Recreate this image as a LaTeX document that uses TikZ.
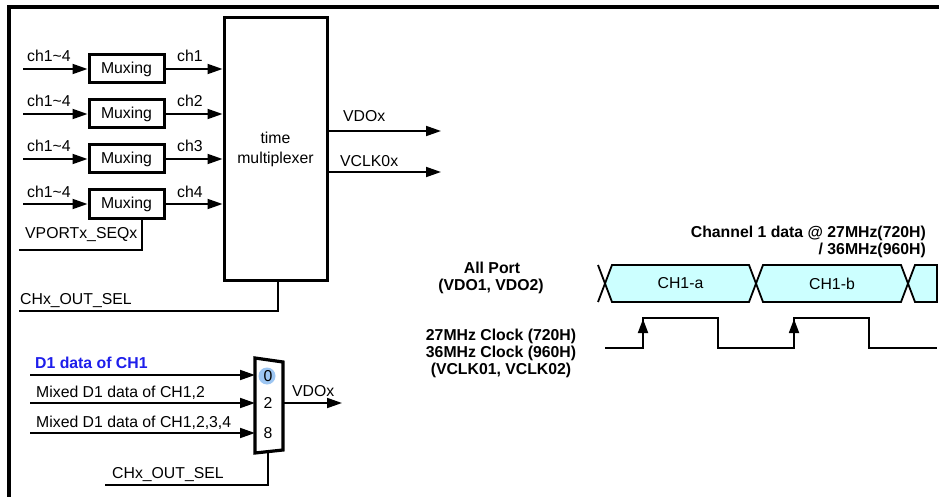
\documentclass[tikz,border=0pt]{standalone}
\usepackage{fontspec}
\setmainfont{Liberation Sans}
\usetikzlibrary{arrows.meta,calc}
\definecolor{hexfill}{RGB}{204,255,255}
\definecolor{selblue}{RGB}{157,198,242}
\definecolor{txtblue}{RGB}{30,30,235}
\begin{document}
\begin{tikzpicture}[x=1pt,y=-1pt,
  font=\fontsize{15.8}{19}\selectfont,
  box/.style={draw,line width=3pt,minimum width=75pt,minimum height=28pt,inner sep=0pt},
  sig/.style={line width=1.8pt},
  arr/.style={sig,-{Triangle[length=15pt,width=10pt]}},
  lbl/.style={anchor=base west,inner sep=0pt},
  blbl/.style={anchor=base,inner sep=0pt,font=\fontsize{15.8}{19}\selectfont\bfseries},
  hexa/.style={draw,line width=1.8pt,fill=hexfill,line join=miter},
  edgearr/.style={line width=1.8pt,-{Triangle[length=14pt,width=10pt]}}
]
\useasboundingbox (0,0) rectangle (939,497);
\fill[white] (0,0) rectangle (939,497);
% outer frame
\draw[line width=3.5pt] (9,500) -- (9,7) -- (942,7);

% muxing boxes
\foreach \i/\y in {1/69,2/114,3/159,4/204}{
  \node[box] (m\i) at (126.5,\y) {Muxing};
}
% time multiplexer
\node[draw,line width=3pt,minimum width=103pt,minimum height=262pt,inner sep=0pt,
  align=center,font=\fontsize{15.8}{20}\selectfont] (tm) at (275.5,149) {time\\multiplexer};

\foreach \i/\y in {1/69,2/114,3/159,4/204}{
  \coordinate (in\i) at (23,\y);
  \draw[arr] (in\i) -- (m\i.west);
  \node[lbl] at (27,\y-7) {ch1\textasciitilde 4};
  \draw[arr] (m\i.east) -- (m\i.east -| tm.west);
  \node[lbl] at (177,\y-7) {ch\i};
}

% outputs
\coordinate (vdo) at (441,131);
\coordinate (vclk) at (441,172);
\draw[arr] (tm.east |- vdo) -- (vdo);
\draw[arr] (tm.east |- vclk) -- (vclk);
\node[lbl] at (343,122) {VDOx};
\node[lbl] at (340,167) {VCLK0x};

% VPORTx_SEQx
\coordinate (vp) at (19,250);
\draw[sig] (vp) -| ([xshift=15.5pt]m4.south);
\node[lbl] at (25,238) {VPORTx\_SEQx};

% CHx_OUT_SEL (top)
\coordinate (cs) at (19,311);
\draw[sig] (cs) -| ([xshift=2.5pt]tm.south);
\node[lbl] at (20,304) {CHx\_OUT\_SEL};

% bottom mux
\coordinate (mtl) at (255,358);
\coordinate (mtr) at (283,362);
\coordinate (mbr) at (283,450);
\coordinate (mbl) at (255,453);
\coordinate (msel) at (268,451.6);
\fill[selblue] (267,376) circle[radius=8.5pt];
\draw[line width=3.2pt,line join=miter] (mtl) -- (mtr) -- (mbr) -- (mbl) -- cycle;
\node[inner sep=0pt] (d0) at (268,376) {0};
\node[inner sep=0pt] (d2) at (268,403) {2};
\node[inner sep=0pt] (d8) at (268,433) {8};

\coordinate (a0) at (30,375);
\coordinate (a2) at (30,403);
\coordinate (a8) at (30,433);
\draw[arr] (a0) -- (a0 -| mtl);
\draw[arr] (a2) -- (a2 -| mtl);
\draw[arr] (a8) -- (a8 -| mtl);
\node[lbl,text=txtblue,font=\fontsize{15.8}{19}\selectfont\bfseries] at (35,368) {D1 data of CH1};
\node[lbl] at (36,397) {Mixed D1 data of CH1,2};
\node[lbl] at (36,427) {Mixed D1 data of CH1,2,3,4};

\coordinate (vo) at (342,403);
\draw[arr] (vo -| mtr) -- (vo);
\node[lbl] at (292,396) {VDOx};

\coordinate (sb) at (105,485);
\draw[sig] (sb) -| (msel);
\node[lbl] at (112,478) {CHx\_OUT\_SEL};

% timing: data bus
\draw[line width=1.8pt] (598,265) -- (605,283.5) -- (598,302);
\draw[hexa] (605,283.5) -- (612,265) -- (749,265) -- (756,283.5) -- (749,302) -- (612,302) -- cycle;
\draw[hexa] (756,283.5) -- (763,265) -- (901,265) -- (908,283.5) -- (901,302) -- (763,302) -- cycle;
\draw[hexa] (908,283.5) -- (915,265) -- (937,265) -- (937,302) -- (915,302) -- cycle;
\node (ca) at (680.5,283.5) {CH1-a};
\node (cb) at (832,283.5) {CH1-b};

% timing: clock
\draw[line width=1.8pt,line join=miter] (605,348) -- (643,348) -- (643,318) -- (718,318) -- (718,348)
  -- (794,348) -- (794,318) -- (869,318) -- (869,348) -- (937,348);
\draw[edgearr] (643,346) -- (643,319);
\draw[edgearr] (794,346) -- (794,319);

% timing labels
\node[blbl,anchor=base east] at (926,237) {Channel 1 data @ 27MHz(720H)};
\node[blbl,anchor=base east] at (926,254) {/ 36MHz(960H)};
\node[blbl] at (492,273) {All Port};
\node[blbl] at (491,290) {(VDO1, VDO2)};
\node[blbl] at (501,340) {27MHz Clock (720H)};
\node[blbl] at (501,357) {36MHz Clock (960H)};
\node[blbl] at (501,374) {(VCLK01, VCLK02)};
\end{tikzpicture}
\end{document}
